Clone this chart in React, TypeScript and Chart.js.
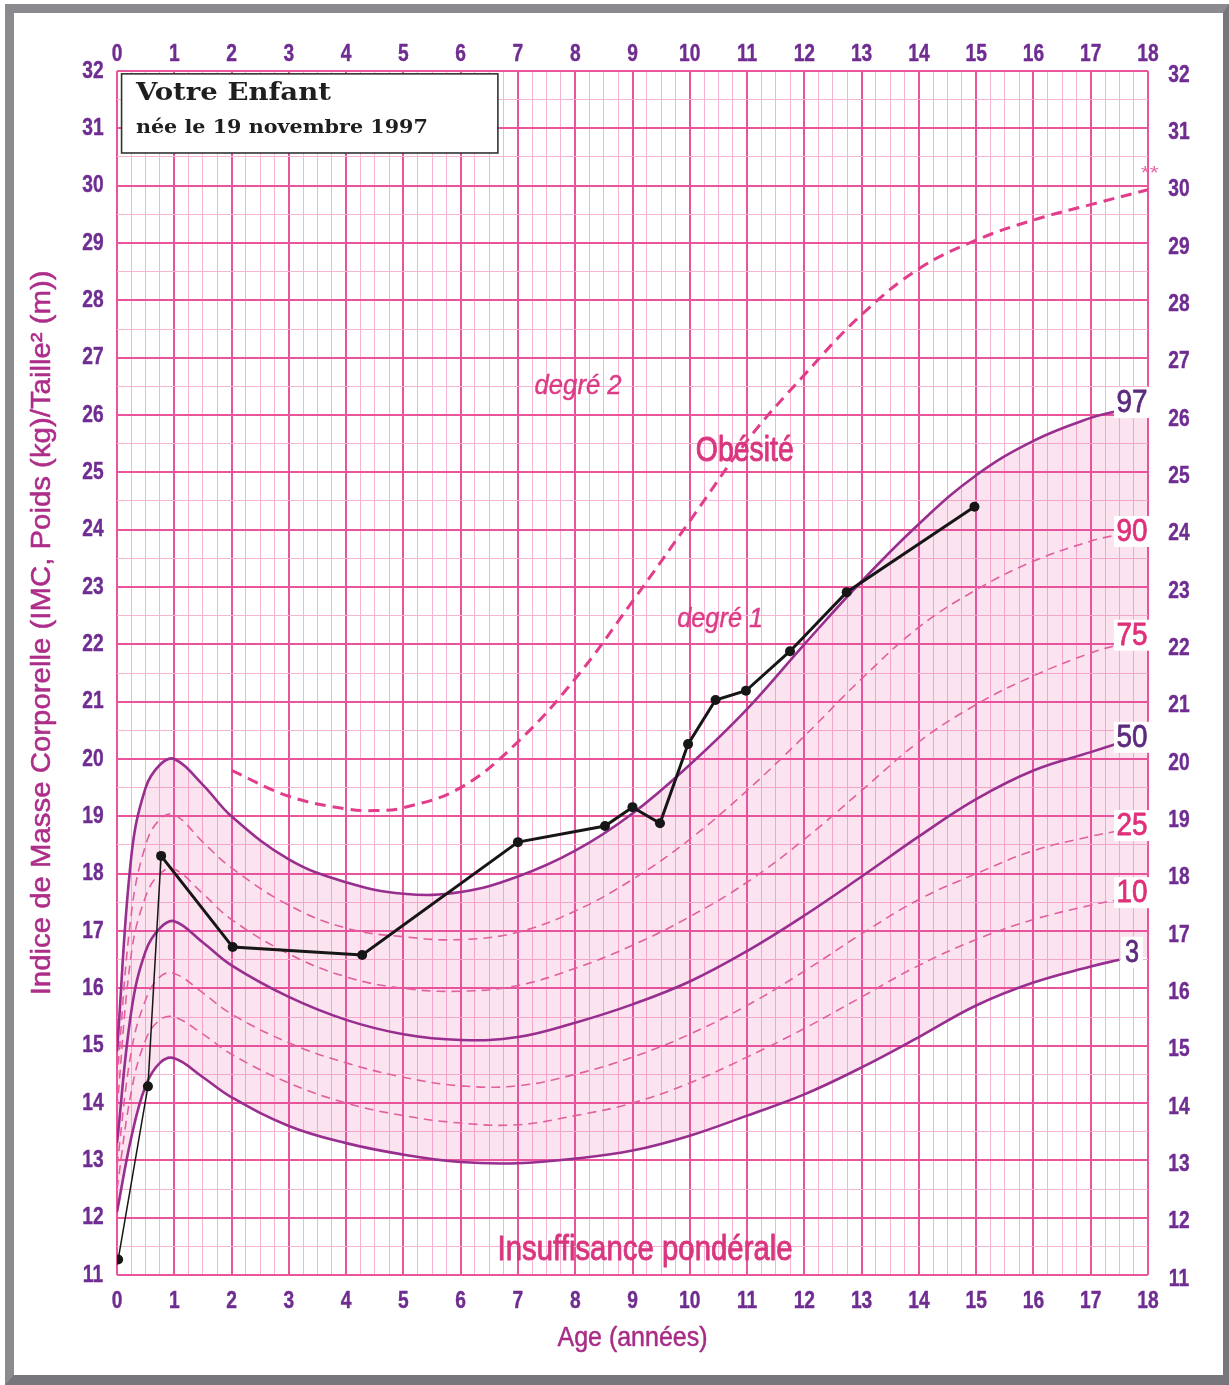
import React, { useEffect, useRef } from "react";
import { Chart, registerables } from "chart.js";
Chart.register(...registerables);

// ---- Data ----
const AGES = [0, 0.25, 0.5, 0.75, 1, 1.5, 2, 3, 4, 5, 6, 7, 8, 9, 10, 11, 12, 13, 14, 15, 16, 17, 17.5];
const P97 = [14.9, 18.3, 19.5, 19.9, 20.0, 19.55, 19.0, 18.25, 17.85, 17.65, 17.68, 17.95, 18.4, 19.05, 19.9, 20.87, 22.0, 23.1, 24.1, 24.95, 25.55, 25.95, 26.08];
const P90 = [14.4, 17.3, 18.5, 18.95, 19.03, 18.55, 18.1, 17.45, 17.05, 16.9, 16.85, 16.98, 17.35, 17.9, 18.6, 19.45, 20.4, 21.4, 22.3, 22.95, 23.45, 23.8, 23.92];
const P75 = [13.9, 16.6, 17.6, 18.0, 18.08, 17.65, 17.2, 16.6, 16.2, 16.0, 15.95, 16.05, 16.35, 16.75, 17.25, 17.85, 18.6, 19.45, 20.3, 20.95, 21.45, 21.85, 22.0];
const P50 = [13.3, 15.6, 16.65, 17.05, 17.17, 16.8, 16.4, 15.85, 15.45, 15.2, 15.1, 15.15, 15.4, 15.72, 16.12, 16.65, 17.27, 17.95, 18.65, 19.3, 19.8, 20.12, 20.28];
const P25 = [12.9, 14.9, 15.8, 16.2, 16.26, 15.92, 15.55, 15.05, 14.7, 14.45, 14.3, 14.3, 14.5, 14.8, 15.2, 15.7, 16.3, 16.95, 17.55, 18.0, 18.4, 18.65, 18.75];
const P10 = [12.5, 14.2, 15.1, 15.45, 15.5, 15.2, 14.85, 14.35, 14.0, 13.78, 13.65, 13.62, 13.78, 14.0, 14.35, 14.8, 15.3, 15.85, 16.4, 16.85, 17.2, 17.45, 17.55];
const P3 = [12.1, 13.4, 14.3, 14.7, 14.78, 14.45, 14.1, 13.6, 13.3, 13.1, 12.97, 12.95, 13.03, 13.17, 13.43, 13.78, 14.15, 14.62, 15.15, 15.7, 16.1, 16.38, 16.5];

const DEG2_AGES = [2, 3, 4, 4.5, 5, 6, 7, 8, 9, 10, 11, 12, 13, 14, 15, 16, 17, 18];
const DEG2_BMI = [19.8, 19.35, 19.13, 19.1, 19.15, 19.5, 20.3, 21.4, 22.75, 24.15, 25.55, 26.7, 27.75, 28.55, 29.05, 29.4, 29.67, 29.93];

const CHILD_AGES = [0.02, 0.54, 0.77, 2.02, 4.28, 7.0, 8.52, 9.0, 9.48, 9.97, 10.45, 10.98, 11.75, 12.74, 14.97];
const CHILD_BMI = [11.27, 14.29, 18.31, 16.72, 16.58, 18.55, 18.83, 19.16, 18.88, 20.26, 21.03, 21.19, 21.88, 22.91, 24.4];

const X_TICKS = [0, 1, 2, 3, 4, 5, 6, 7, 8, 9, 10, 11, 12, 13, 14, 15, 16, 17, 18];
const Y_TICKS = [11, 12, 13, 14, 15, 16, 17, 18, 19, 20, 21, 22, 23, 24, 25, 26, 27, 28, 29, 30, 31, 32];

const PCT_NAMES = ["97", "90", "75", "50", "25", "10", "3"];
const PCT_LABEL_Y = [26.21, 23.96, 22.15, 20.37, 18.83, 17.66, 16.62];

// ---- Styles ----
const GRID_MAJOR = "#e9549b";
const GRID_MINOR = "#f6b5d3";
const SOLID = "#982e8e";
const DASHED = "#e2609f";
const TICK_COLOR = "#6f2c91";
const PINK_TEXT = "#d9367f";
const PURPLE_TEXT = "#5c2a7e";

const pts = (xs: number[], ys: number[]) => xs.map((x, i) => ({ x, y: ys[i] }));
const isMajor = (v: number) => Math.abs(v - Math.round(v)) < 1e-6;

function drawText(
  ctx: CanvasRenderingContext2D,
  text: string,
  x: number,
  y: number,
  font: string,
  color: string,
  opts: { width?: number; sx?: number; align?: "left" | "center"; rot?: number; stroke?: number } = {}
) {
  ctx.save();
  ctx.font = font;
  const w = ctx.measureText(text).width;
  const sx = opts.width ? opts.width / w : opts.sx ?? 1;
  ctx.translate(x, y);
  if (opts.rot) ctx.rotate(opts.rot);
  ctx.scale(sx, 1);
  ctx.textAlign = opts.align ?? "center";
  ctx.textBaseline = "middle";
  ctx.fillStyle = color;
  ctx.fillText(text, 0, 0);
  if (opts.stroke) {
    ctx.strokeStyle = color;
    ctx.lineWidth = opts.stroke;
    ctx.lineJoin = "round";
    ctx.strokeText(text, 0, 0);
  }
  ctx.restore();
}

const overlayPlugin = {
  id: "overlay",
  afterDatasetsDraw(chart: any) {
    const ctx: CanvasRenderingContext2D = chart.ctx;
    const xs = chart.scales.x;
    const ys = chart.scales.y;
    const X = (v: number) => xs.getPixelForValue(v);
    const Y = (v: number) => ys.getPixelForValue(v);
    const cond = '"Liberation Sans", Arial, sans-serif';

    // percentile labels with white boxes
    PCT_NAMES.forEach((name, i) => {
      const cx = X(17.72);
      const cy = Y(PCT_LABEL_Y[i]);
      const purple = name === "97" || name === "50" || name === "3";
      ctx.save();
      ctx.fillStyle = "#ffffff";
      const bw = name.length > 1 ? 36 : 22;
      ctx.fillRect(cx - bw / 2, cy - 16, bw, 31);
      ctx.restore();
      drawText(ctx, name, cx, cy, `32px ${cond}`, purple ? PURPLE_TEXT : "#e0307a", {
        width: name.length > 1 ? 31 : 14,
        stroke: 0.8,
      });
    });

    // annotation texts
    drawText(ctx, "degré 2", X(8.05), Y(26.49), `italic 27px ${cond}`, "#dc3b86", { width: 87, stroke: 0.4 });
    drawText(ctx, "degré 1", X(10.53), Y(22.43), `italic 27px ${cond}`, "#dc3b86", { width: 86, stroke: 0.4 });
    drawText(ctx, "Obésité", X(10.96), Y(25.36), `35px ${cond}`, PINK_TEXT, { width: 98, stroke: 0.9 });
    drawText(ctx, "Insuffisance pondérale", X(9.22), Y(11.43), `35px ${cond}`, PINK_TEXT, { width: 295, stroke: 0.9 });
    drawText(ctx, "**", X(18.03), Y(30.2), `18px ${cond}`, "#e46aa3", { width: 18 });

    // text box
    const bx0 = X(0.08), bx1 = X(6.65), by0 = Y(31.95), by1 = Y(30.57);
    ctx.save();
    ctx.fillStyle = "#ffffff";
    ctx.fillRect(bx0, by0, bx1 - bx0, by1 - by0);
    ctx.strokeStyle = "#333333";
    ctx.lineWidth = 1.6;
    ctx.strokeRect(bx0, by0, bx1 - bx0, by1 - by0);
    ctx.restore();
    const serif = '"DejaVu Serif", serif';
    drawText(ctx, "Votre Enfant", X(0.33), Y(31.6), `bold 25px ${serif}`, "#1e1e1e", { width: 195, align: "left" });
    drawText(ctx, "née le 19 novembre 1997", X(0.33), Y(31.0), `bold 19px ${serif}`, "#1e1e1e", { width: 292, align: "left" });
  },
  afterDraw(chart: any) {
    const ctx: CanvasRenderingContext2D = chart.ctx;
    const xs = chart.scales.x;
    const ys = chart.scales.y;
    const area = chart.chartArea;
    const cond = '"Liberation Sans", Arial, sans-serif';
    const tickFont = `bold 24px ${cond}`;
    X_TICKS.forEach((v) => {
      const px = xs.getPixelForValue(v);
      drawText(ctx, String(v), px, area.top - 17, tickFont, TICK_COLOR, { sx: 0.8, stroke: 0.4 });
      drawText(ctx, String(v), px, area.bottom + 26, tickFont, TICK_COLOR, { sx: 0.8, stroke: 0.4 });
    });
    Y_TICKS.forEach((v) => {
      const py = ys.getPixelForValue(v);
      drawText(ctx, String(v), area.left - 24, py, tickFont, TICK_COLOR, { sx: 0.8, stroke: 0.4 });
      drawText(ctx, String(v), area.right + 31, py + 4, tickFont, TICK_COLOR, { sx: 0.8, stroke: 0.4 });
    });
    drawText(
      ctx,
      "Indice de Masse Corporelle (IMC, Poids (kg)/Taille² (m))",
      area.left - 74,
      ys.getPixelForValue(22.2),
      `27px ${cond}`,
      "#ad2d89",
      { width: 725, rot: -Math.PI / 2, stroke: 0.5 }
    );
    drawText(ctx, "Age (années)", (area.left + area.right) / 2, area.bottom + 63, `28px ${cond}`, "#a82b85", { width: 150, stroke: 0.5 });
  },
};

export default function App() {
  const ref = useRef<HTMLCanvasElement>(null);
  useEffect(() => {
    const lineBase = { pointRadius: 0, fill: false, tension: 0.4 };
    const chart = new Chart(ref.current!, {
      type: "line",
      data: {
        datasets: [
          {
            label: "Votre Enfant",
            data: pts(CHILD_AGES, CHILD_BMI),
            borderColor: "#161616",
            backgroundColor: "#161616",
            borderWidth: 3,
            pointRadius: 5,
            pointBorderWidth: 0,
            tension: 0,
            fill: false,
            segment: { borderWidth: (c: any) => (c.p0DataIndex < 2 ? 1.5 : 3) },
          } as any,
          { ...lineBase, label: "97", data: pts(AGES, P97), borderColor: SOLID, borderWidth: 2.6 },
          { ...lineBase, label: "90", data: pts(AGES, P90), borderColor: DASHED, borderWidth: 1.6, borderDash: [9, 6] },
          { ...lineBase, label: "75", data: pts(AGES, P75), borderColor: DASHED, borderWidth: 1.6, borderDash: [9, 6] },
          { ...lineBase, label: "50", data: pts(AGES, P50), borderColor: SOLID, borderWidth: 2.6 },
          { ...lineBase, label: "25", data: pts(AGES, P25), borderColor: DASHED, borderWidth: 1.6, borderDash: [9, 6] },
          { ...lineBase, label: "10", data: pts(AGES, P10), borderColor: DASHED, borderWidth: 1.6, borderDash: [9, 6] },
          { ...lineBase, label: "3", data: pts(AGES, P3), borderColor: SOLID, borderWidth: 2.6 },
          { ...lineBase, label: "degré 2", data: pts(DEG2_AGES, DEG2_BMI), borderColor: "#e23d8a", borderWidth: 3, borderDash: [11, 7] },
          {
            ...lineBase,
            label: "band top",
            data: [...pts(AGES, P97), { x: 18, y: 26.0 }],
            borderWidth: 0,
            borderColor: "rgba(0,0,0,0)",
            backgroundColor: "rgba(232, 90, 160, 0.17)",
            fill: 10,
          },
          {
            ...lineBase,
            label: "band bottom",
            data: [...pts(AGES, P3), { x: 18, y: 16.55 }],
            borderWidth: 0,
            borderColor: "rgba(0,0,0,0)",
          },
        ],
      },
      options: {
        responsive: false,
        animation: false,
        layout: { padding: { left: 117, top: 71, right: 81, bottom: 110 }, autoPadding: false },
        plugins: { legend: { display: false }, tooltip: { enabled: false }, title: { display: false } },
        scales: {
          x: {
            type: "linear",
            min: 0,
            max: 18,
            ticks: { display: false, stepSize: 0.25, autoSkip: false },
            grid: {
              drawTicks: false,
              color: (c: any) => (isMajor(c.tick.value) ? GRID_MAJOR : GRID_MINOR),
              lineWidth: (c: any) => (isMajor(c.tick.value) ? 2 : 1),
            },
            border: { display: false },
          },
          y: {
            type: "linear",
            min: 11,
            max: 32,
            ticks: { display: false, stepSize: 0.5, autoSkip: false },
            grid: {
              drawTicks: false,
              color: (c: any) => (isMajor(c.tick.value) ? GRID_MAJOR : GRID_MINOR),
              lineWidth: (c: any) => (isMajor(c.tick.value) ? 2 : 1),
            },
            border: { display: false },
          },
        },
      },
      plugins: [overlayPlugin],
    });
    return () => chart.destroy();
  }, []);

  return (
    <div style={{ position: "absolute", left: 0, top: 0, width: 1229, height: 1385, background: "#ffffff", overflow: "hidden" }}>
      <div
        style={{
          position: "absolute",
          left: 5,
          top: 4,
          width: 1224,
          height: 1381,
          boxSizing: "border-box",
          borderLeft: "9px solid #8b8b8f",
          borderTop: "9px solid #8b8b8f",
          borderRight: "6px solid #77777b",
          borderBottom: "10px solid #77777b",
        }}
      />
      <canvas ref={ref} width={1229} height={1385} style={{ position: "absolute", left: 0, top: 0 }} />
    </div>
  );
}
